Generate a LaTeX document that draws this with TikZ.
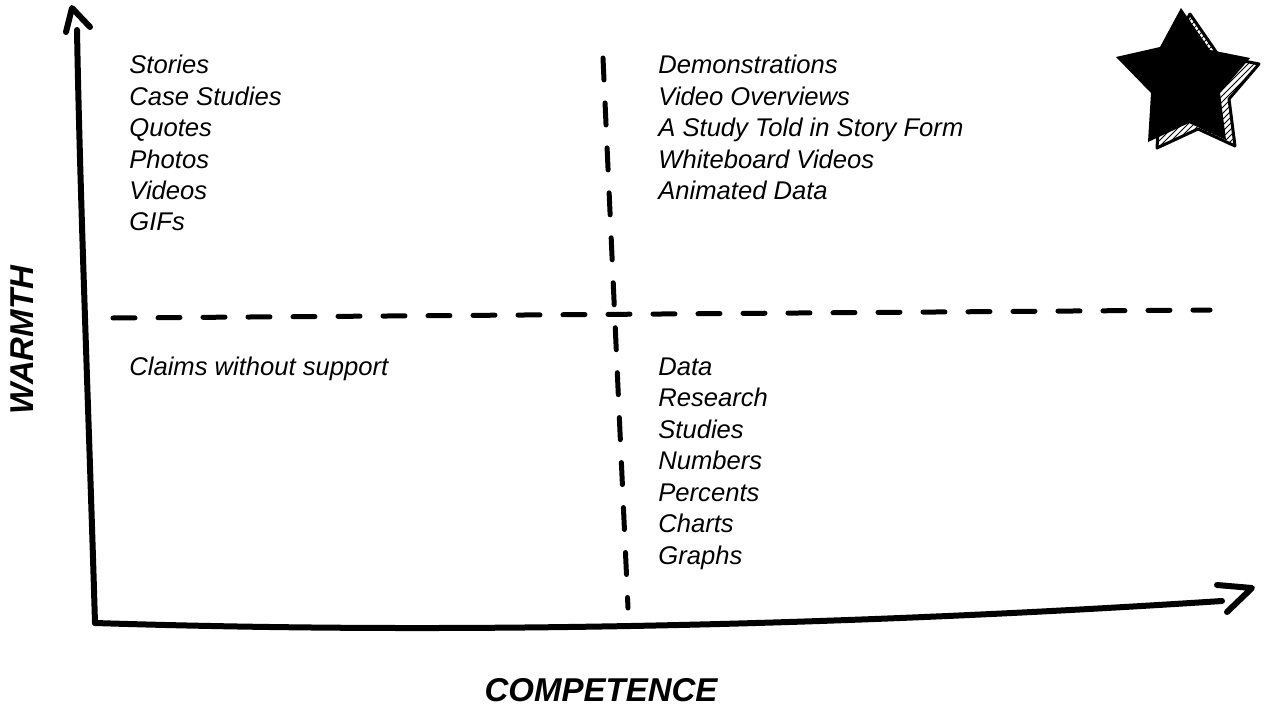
\documentclass[tikz,border=0pt]{standalone}
\usepackage{fontspec}
\setmainfont{Liberation Sans}
\usetikzlibrary{patterns}

\newcommand{\starshape}{(1181,8) -- (1210,50) -- (1250,58) -- (1220,93) -- (1226,140)
    -- (1189,123) -- (1148,142) -- (1151,93) -- (1116,57) -- (1160,47) -- cycle}

\begin{document}
\begin{tikzpicture}[
    x=0.5pt, y=-0.5pt,
    item/.style={anchor=base west, inner sep=0pt, font=\fontsize{12.8}{15}\selectfont\itshape},
    axislabel/.style={inner sep=0pt, font=\fontsize{16.5}{18}\selectfont\bfseries\itshape},
    axis/.style={line width=3pt, line cap=round, line join=round},
    divider/.style={line width=2.5pt, line cap=round, dash pattern=on 11pt off 11.5pt}
]
\useasboundingbox (0,0) rectangle (1265,706);

% axes
\coordinate (origin) at (95,623);
\coordinate (ytip) at (72,8);
\coordinate (ytop) at (77,30);
\coordinate (xtip) at (1252,588);
\coordinate (xend) at (1222,601);
\draw[axis] (origin) .. controls (89,420) and (80,200) .. (ytop);
\draw[axis] (origin) .. controls (500,636) and (900,622) .. (xend);
\draw[axis] (ytip) ++(-6,24) -- (ytip) -- ++(18,19);
\draw[axis] (xtip) ++(-35,-3) -- (xtip) -- ++(-25,24);

% quadrant dividers
\coordinate (hl) at (113,318);
\coordinate (hr) at (1210,310);
\coordinate (vt) at (603,58);
\coordinate (vb) at (628,608);
\draw[divider] (hl) -- (hr);
\draw[divider] (vt) -- (vb);

% axis labels
\node[axislabel] (competence) at (601,690) {COMPETENCE};
\node[axislabel, rotate=90] (warmth) at (22,340) {WARMTH};

% quadrant items
\foreach \txt [count=\i] in {Stories, Case Studies, Quotes, Photos, Videos, GIFs}
    \node[item] (warm\i) at (129,{74+31.4*(\i-1)}) {\txt};
\foreach \txt [count=\i] in {Demonstrations, Video Overviews, A Study Told in Story Form, Whiteboard Videos, Animated Data}
    \node[item] (both\i) at (658,{74+31.4*(\i-1)}) {\txt};
\node[item] (none) at (129,375) {Claims without support};
\foreach \txt [count=\i] in {Data, Research, Studies, Numbers, Percents, Charts, Graphs}
    \node[item] (comp\i) at (658,{375+31.5*(\i-1)}) {\txt};

% star with hatched edge
\begin{scope}[shift={(9,6)}]
    \draw[line width=1.5pt, line join=round, pattern=north east lines] \starshape;
\end{scope}
\fill[black, line join=round] \starshape;
\end{tikzpicture}
\end{document}
